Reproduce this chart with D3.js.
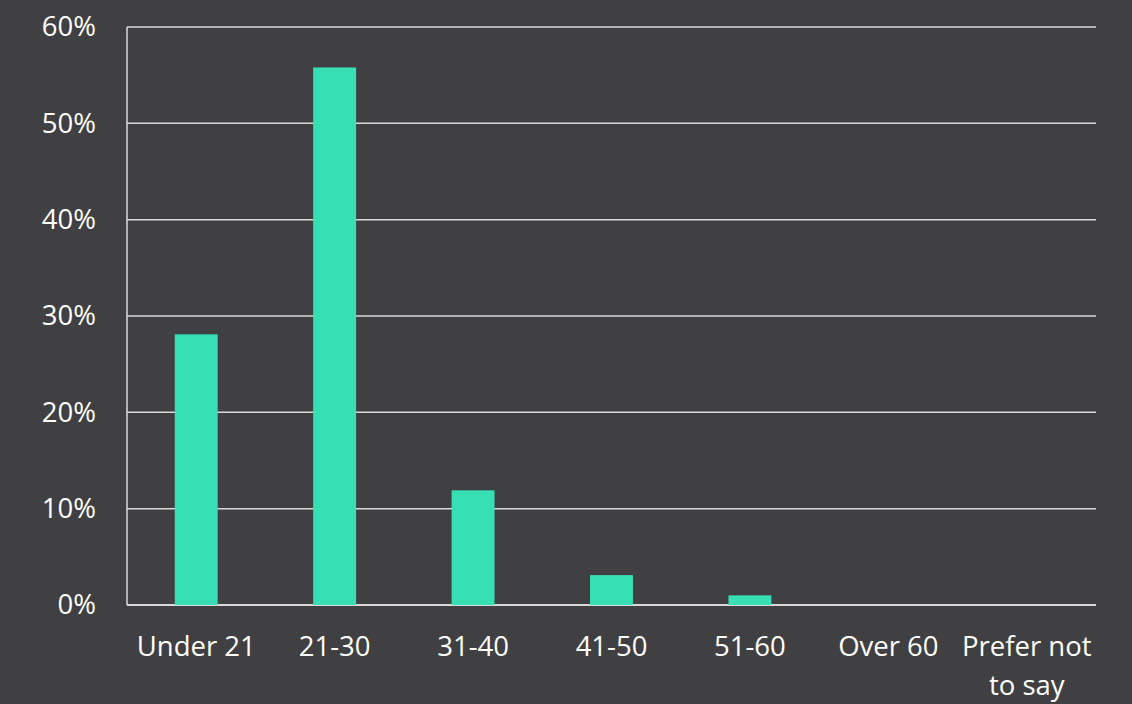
<!DOCTYPE html>
<html>
<head>
<meta charset="utf-8">
<script src="https://cdn.jsdelivr.net/npm/d3@7"></script>
<style>
  html, body { margin: 0; padding: 0; background: #404042; }
  svg { display: block; }
  text { font-family: "Open Sans", "Noto Sans", sans-serif; fill: #ffffff; }
</style>
</head>
<body>
<svg id="chart" width="1132" height="704"></svg>
<script>
// Share of respondents by age group (percent)
const categories = ["Under 21", "21-30", "31-40", "41-50", "51-60", "Over 60", "Prefer not to say"];
const values = [28.1, 55.8, 11.9, 3.1, 1.0, 0, 0];
const yTicks = [0, 10, 20, 30, 40, 50, 60];

const W = 1132, H = 704;
const margin = { top: 27, right: 36, bottom: 99, left: 127 };
const svg = d3.select("#chart");
svg.append("rect").attr("width", W).attr("height", H).attr("fill", "#404042");

const x = d3.scaleBand()
  .domain(categories)
  .range([margin.left, W - margin.right])
  .paddingInner(0.69)
  .paddingOuter(0.345);

const y = d3.scaleLinear()
  .domain([0, 60])
  .range([H - margin.bottom, margin.top]);

// horizontal gridlines
svg.append("g")
  .selectAll("line")
  .data(yTicks)
  .join("line")
  .attr("x1", margin.left)
  .attr("x2", W - margin.right)
  .attr("y1", d => y(d))
  .attr("y2", d => y(d))
  .attr("stroke", "#d9d9d9")
  .attr("stroke-width", d => d === 0 ? 2 : 1.5);

// vertical axis line
svg.append("line")
  .attr("x1", margin.left).attr("x2", margin.left)
  .attr("y1", margin.top).attr("y2", y(0))
  .attr("stroke", "#d9d9d9")
  .attr("stroke-width", 1.5);

// y tick labels
const yAxis = d3.axisLeft(y).tickValues(yTicks).tickFormat(d => d + "%").tickSize(0).tickPadding(31);
const gy = svg.append("g").attr("transform", `translate(${margin.left},0)`).call(yAxis);
gy.select(".domain").remove();
gy.selectAll("text").attr("font-size", 27.5).attr("fill", "#ffffff");

// bars
svg.append("g")
  .selectAll("rect")
  .data(categories.map((c, i) => ({ c, v: values[i] })))
  .join("rect")
  .attr("x", d => x(d.c))
  .attr("width", x.bandwidth())
  .attr("y", d => y(d.v))
  .attr("height", d => y(0) - y(d.v))
  .attr("fill", "#36e0b4");

// x category labels, wrapped to two lines where needed
const xAxis = d3.axisBottom(x).tickSize(0).tickPadding(0);
const gx = svg.append("g").attr("transform", `translate(0,${y(0)})`).call(xAxis);
gx.select(".domain").remove();
gx.selectAll("text")
  .attr("font-size", 27.5)
  .attr("fill", "#ffffff")
  .attr("dy", null)
  .each(function(d) {
    const t = d3.select(this);
    t.text(null);
    const lines = d === "Prefer not to say" ? ["Prefer not", "to say"] : [d];
    lines.forEach((ln, i) => {
      t.append("tspan")
        .attr("x", 0)
        .attr("y", 51 + i * 38.5)
        .text(ln);
    });
  });
</script>
</body>
</html>
